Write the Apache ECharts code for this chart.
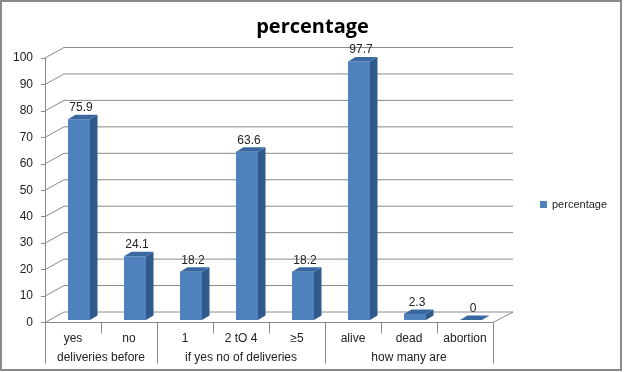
<!DOCTYPE html>
<html>
<head>
<meta charset="utf-8">
<script src="https://cdn.jsdelivr.net/npm/echarts@6/dist/echarts.min.js"></script>
<style>html,body{margin:0;padding:0;background:#fff;}#c{width:625px;height:372px;}</style>
</head>
<body>
<div id="c"></div>
<script>
var categories = ['yes', 'no', '1', '2 tO 4', '\u22655', 'alive', 'dead', 'abortion'];
var values = [75.9, 24.1, 18.2, 63.6, 18.2, 97.7, 2.3, 0];
var groupNames = ['deliveries before', 'if yes no of deliveries', 'how many are'];
var groupSizes = [2, 3, 3];
var yTicks = [0, 10, 20, 30, 40, 50, 60, 70, 80, 90, 100];
var seriesName = 'percentage';

var groupBounds = [0], groupCenters = [];
groupSizes.forEach(function (s, i) {
  var start = groupBounds[i];
  groupBounds.push(start + s);
  groupCenters.push(start + s / 2);
});

var FONT = 'Liberation Sans';
var WALL_DX = 19, WALL_DY = -10.5;
var BAR_DX = 6, BAR_DY = -2.5, BAR_W = 22, DEP_X = 7.5, DEP_Y = -4.5;

var chart = echarts.init(document.getElementById('c'), null, {renderer: 'canvas'});
chart.setOption({
  animation: false,
  backgroundColor: '#fff',
  graphic: [{
    type: 'rect', shape: {x: 1, y: 1, width: 620, height: 369},
    style: {fill: 'none', stroke: '#8a8a8a', lineWidth: 2}, z: 100
  }],
  title: {
    text: 'percentage', left: 'center', top: 12,
    textStyle: {fontFamily: 'Open Sans', fontWeight: 'bold', fontSize: 20, color: '#000'}
  },
  legend: {
    data: [seriesName], left: 535, top: 194, icon: 'rect', itemWidth: 7, itemHeight: 7, itemGap: 4,
    textStyle: {fontFamily: FONT, fontSize: 11, color: '#222'}
  },
  grid: {left: 45, right: 132, top: 58, bottom: 49.5, containLabel: false},
  xAxis: [{
    type: 'category', data: categories, position: 'bottom',
    axisLine: {show: true, lineStyle: {color: '#8a8a8a', width: 1}},
    axisTick: {show: true, interval: 0, length: 11, lineStyle: {color: '#8a8a8a'}},
    axisLabel: {interval: 0, margin: 10, fontFamily: FONT, fontSize: 12, color: '#222'},
    splitLine: {show: false}
  }, {
    type: 'value', min: 0, max: groupBounds[groupBounds.length - 1], position: 'bottom',
    axisLine: {show: false},
    axisTick: {show: true, customValues: groupBounds, length: 41, lineStyle: {color: '#8a8a8a'}},
    axisLabel: {
      customValues: groupCenters, margin: 29, fontFamily: FONT, fontSize: 12, color: '#222',
      formatter: function (v) {
        var i = groupCenters.indexOf(v);
        return i >= 0 ? groupNames[i] : '';
      }
    },
    splitLine: {show: false}
  }],
  yAxis: {
    type: 'value', min: 0, max: 100, interval: 10,
    axisLine: {show: true, lineStyle: {color: '#8a8a8a'}},
    axisTick: {show: true, length: 4, lineStyle: {color: '#8a8a8a'}},
    axisLabel: {margin: 12, fontFamily: FONT, fontSize: 12, color: '#222'},
    splitLine: {show: false}
  },
  series: [{
    type: 'custom', name: 'wall', xAxisIndex: 1, yAxisIndex: 0, clip: false, silent: true, z: 1,
    data: yTicks.map(function (t) { return [0, t]; }),
    renderItem: function (params, api) {
      var v = api.value(1);
      var xmax = groupBounds[groupBounds.length - 1];
      var p0 = api.coord([0, v]);
      var p1 = api.coord([xmax, v]);
      var st = {stroke: '#8a8a8a', lineWidth: 1, fill: 'none'};
      var children = [
        {type: 'line', shape: {x1: p0[0], y1: p0[1], x2: p0[0] + WALL_DX, y2: p0[1] + WALL_DY}, style: st},
        {type: 'line', shape: {x1: p0[0] + WALL_DX, y1: p0[1] + WALL_DY, x2: p1[0] + WALL_DX + 1, y2: p1[1] + WALL_DY}, style: st}
      ];
      if (v === 0) {
        children.push({type: 'line', shape: {x1: p1[0], y1: p1[1], x2: p1[0] + WALL_DX + 1, y2: p1[1] + WALL_DY}, style: st});
      }
      return {type: 'group', children: children};
    }
  }, {
    type: 'custom', name: seriesName, xAxisIndex: 0, yAxisIndex: 0, clip: false, z: 5,
    itemStyle: {color: '#4F81BD'},
    data: categories.map(function (c, i) { return [i, values[i]]; }),
    renderItem: function (params, api) {
      var idx = api.value(0), v = api.value(1);
      var base = api.coord([idx, 0]);
      var top = api.coord([idx, v]);
      var cx = base[0] + BAR_DX;
      var x0 = cx - BAR_W / 2, x1 = cx + BAR_W / 2;
      var yb = base[1] + BAR_DY, yt = top[1] + BAR_DY;
      var children = [];
      if (yb - yt > 0.3) {
        children.push({type: 'rect', shape: {x: x0, y: yt, width: BAR_W, height: yb - yt}, style: {fill: '#4F81BD'}});
        children.push({type: 'polygon', shape: {points: [[x1, yt], [x1 + DEP_X, yt + DEP_Y], [x1 + DEP_X, yb + DEP_Y], [x1, yb]]}, style: {fill: '#2E5A8C'}});
      }
      children.push({type: 'polygon', shape: {points: [[x0, yt], [x0 + DEP_X, yt + DEP_Y], [x1 + DEP_X, yt + DEP_Y], [x1, yt]]}, style: {fill: '#3A68A0'}});
      children.push({type: 'text', style: {
        text: String(v), x: cx + 2, y: yt + DEP_Y - 1, align: 'center', verticalAlign: 'bottom',
        fontFamily: FONT, fontSize: 12, fill: '#222'
      }});
      return {type: 'group', children: children};
    }
  }]
});
</script>
</body>
</html>
